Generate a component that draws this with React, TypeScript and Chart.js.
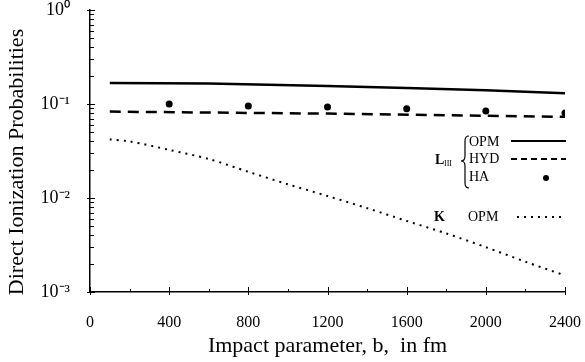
import { useEffect, useRef } from 'react';
import { Chart, registerables } from 'chart.js';

Chart.register(...registerables);

const FONT = "'Liberation Serif', 'Times New Roman', serif";

// L_III OPM (solid)
const opmB = [100, 600, 1200, 1600, 2000, 2400];
const opmL = [0.167, 0.165, 0.155, 0.148, 0.14, 0.13];
// L_III HYD (dashed)
const hydB = [100, 1200, 2400];
const hydL = [0.083, 0.079, 0.073];
// L_III HA (dots)
const haB = [400, 800, 1200, 1600, 2000, 2400];
const haL = [0.1, 0.095, 0.093, 0.089, 0.084, 0.08];
// K OPM (dotted)
const kB = [100, 200, 400, 600, 800, 1000, 1200, 1400, 1600, 1800, 2000, 2200, 2400];
const kOpm = [0.042, 0.04, 0.0325, 0.026, 0.019, 0.014, 0.0105, 0.0078, 0.0057, 0.0042, 0.003, 0.0021, 0.0015];

const xTicks = [0, 400, 800, 1200, 1600, 2000, 2400];
const xTickLabels = ['0', '400', '800', '1200', '1600', '2000', '2400'];
const xMinorTicks = [200, 600, 1000, 1400, 1800, 2200];
const yTicks = [0.001, 0.01, 0.1, 1];
const yTickLabels = ['10⁻³', '10⁻²', '10⁻¹', '10⁰'];
const yTitle = 'Direct Ionization Probabilities';
const xTitle = 'Impact parameter, b,  in fm';

const toPts = (xs: number[], ys: number[]) => xs.map((x, i) => ({ x, y: ys[i] }));

const tickMarks = {
  id: 'tickMarks',
  afterDraw(chart: any) {
    const { ctx } = chart;
    const xs = chart.scales.x;
    const ys = chart.scales.y;
    const x0 = xs.left;
    const y0 = ys.bottom;
    ctx.save();
    ctx.strokeStyle = '#000';
    ctx.lineWidth = 1;
    for (let e = -3; e <= 0; e++) {
      for (let m = 1; m <= 9; m++) {
        const v = m * Math.pow(10, e);
        if (v > 1.0001) break;
        const p = Math.round(ys.getPixelForValue(v)) + 0.5;
        ctx.beginPath();
        if (m === 1) {
          ctx.moveTo(x0 - 3, p);
          ctx.lineTo(x0 + 5, p);
        } else {
          ctx.moveTo(x0, p);
          ctx.lineTo(x0 + 4, p);
        }
        ctx.stroke();
      }
    }
    xTicks.forEach((v) => {
      const p = Math.round(xs.getPixelForValue(v)) + 0.5;
      ctx.beginPath();
      ctx.moveTo(p, y0 - 5);
      ctx.lineTo(p, y0 + 3);
      ctx.stroke();
    });
    xMinorTicks.forEach((v) => {
      const p = Math.round(xs.getPixelForValue(v)) + 0.5;
      ctx.beginPath();
      ctx.moveTo(p, y0 - 3);
      ctx.lineTo(p, y0);
      ctx.stroke();
    });
    // y axis title
    ctx.fillStyle = '#000';
    ctx.font = `22px ${FONT}`;
    ctx.textAlign = 'center';
    ctx.textBaseline = 'middle';
    ctx.translate(17, 162);
    ctx.rotate(-Math.PI / 2);
    ctx.fillText(yTitle, 0, 0);
    ctx.restore();
  },
};

const legendPlugin = {
  id: 'customLegend',
  afterDraw(chart: any) {
    const { ctx } = chart;
    ctx.save();
    ctx.fillStyle = '#000';
    ctx.strokeStyle = '#000';
    ctx.textBaseline = 'middle';
    ctx.textAlign = 'left';
    ctx.font = `14px ${FONT}`;
    ctx.fillText('OPM', 469, 142);
    ctx.fillText('HYD', 469, 159);
    ctx.fillText('HA', 469, 177);
    ctx.fillText('OPM', 468, 217);
    ctx.font = `bold 14px ${FONT}`;
    ctx.fillText('L', 435, 160);
    ctx.fillText('K', 434, 217);
    ctx.font = `8px ${FONT}`;
    ctx.fillText('III', 444, 164);

    ctx.lineWidth = 1.2;
    ctx.beginPath();
    ctx.moveTo(469, 136);
    ctx.quadraticCurveTo(465, 136, 465, 141);
    ctx.lineTo(465, 156);
    ctx.quadraticCurveTo(465, 161, 461, 161);
    ctx.quadraticCurveTo(465, 161, 465, 166);
    ctx.lineTo(465, 183);
    ctx.quadraticCurveTo(465, 188, 469, 188);
    ctx.stroke();

    ctx.lineWidth = 2;
    ctx.beginPath();
    ctx.moveTo(511, 141);
    ctx.lineTo(566, 141);
    ctx.stroke();
    ctx.setLineDash([6, 4]);
    ctx.beginPath();
    ctx.moveTo(511, 159);
    ctx.lineTo(566, 159);
    ctx.stroke();
    ctx.setLineDash([2, 5]);
    ctx.beginPath();
    ctx.moveTo(517, 217);
    ctx.lineTo(566, 217);
    ctx.stroke();
    ctx.setLineDash([]);
    ctx.beginPath();
    ctx.arc(546, 178, 3, 0, Math.PI * 2);
    ctx.fill();
    ctx.restore();
  },
};

export default function App() {
  const ref = useRef<HTMLCanvasElement>(null);

  useEffect(() => {
    if (!ref.current) return;
    const chart = new Chart(ref.current, {
      type: 'line',
      data: {
        datasets: [
          {
            label: 'L_III OPM',
            data: toPts(opmB, opmL),
            borderColor: '#000',
            borderWidth: 2.5,
            pointRadius: 0,
            tension: 0,
          },
          {
            label: 'L_III HYD',
            data: toPts(hydB, hydL),
            borderColor: '#000',
            borderWidth: 2.5,
            borderDash: [11, 7],
            pointRadius: 0,
            tension: 0,
          },
          {
            label: 'L_III HA',
            data: toPts(haB, haL),
            showLine: false,
            borderColor: '#000',
            backgroundColor: '#000',
            pointRadius: 3.5,
            pointBorderWidth: 0,
            pointBackgroundColor: '#000',
          },
          {
            label: 'K OPM',
            data: toPts(kB, kOpm),
            borderColor: '#000',
            borderWidth: 2,
            borderDash: [2, 5],
            pointRadius: 0,
            tension: 0.3,
          },
        ],
      },
      options: {
        animation: false,
        responsive: false,
        maintainAspectRatio: false,
        layout: { padding: { left: 0, right: 20, top: 10, bottom: 0 } },
        plugins: { legend: { display: false }, tooltip: { enabled: false } },
        scales: {
          x: {
            type: 'linear',
            min: 0,
            max: 2400,
            afterBuildTicks: (s: any) => {
              s.ticks = xTicks.map((v) => ({ value: v }));
            },
            afterFit: (s: any) => {
              s.height = 70;
              s.paddingLeft = 0;
              s.paddingRight = 0;
            },
            ticks: {
              color: '#000',
              font: { family: FONT, size: 16 },
              padding: 21,
              maxRotation: 0,
              autoSkip: false,
              callback: (_v: any, i: number) => xTickLabels[i],
            },
            grid: { display: false, drawTicks: false },
            border: { display: true, color: '#000', width: 1.5 },
            title: {
              display: true,
              text: xTitle,
              color: '#000',
              font: { family: FONT, size: 22 },
              padding: { top: 0, bottom: 3 },
            },
          },
          y: {
            type: 'logarithmic',
            min: 0.001,
            max: 1,
            afterBuildTicks: (s: any) => {
              s.ticks = yTicks.map((v) => ({ value: v }));
            },
            afterFit: (s: any) => {
              s.width = 90;
              s.paddingTop = 0;
              s.paddingBottom = 0;
            },
            ticks: {
              color: '#000',
              font: { family: FONT, size: 18 },
              padding: 20,
              autoSkip: false,
              callback: (_v: any, i: number) => yTickLabels[i],
            },
            grid: { display: false, drawTicks: false },
            border: { display: true, color: '#000', width: 1.5 },
            title: { display: false },
          },
        },
      },
      plugins: [tickMarks, legendPlugin],
    });
    return () => chart.destroy();
  }, []);

  return (
    <div style={{ position: 'fixed', left: 0, top: 0, width: 585, height: 362, background: '#fff' }}>
      <canvas ref={ref} width={585} height={362} style={{ width: 585, height: 362 }} />
    </div>
  );
}
